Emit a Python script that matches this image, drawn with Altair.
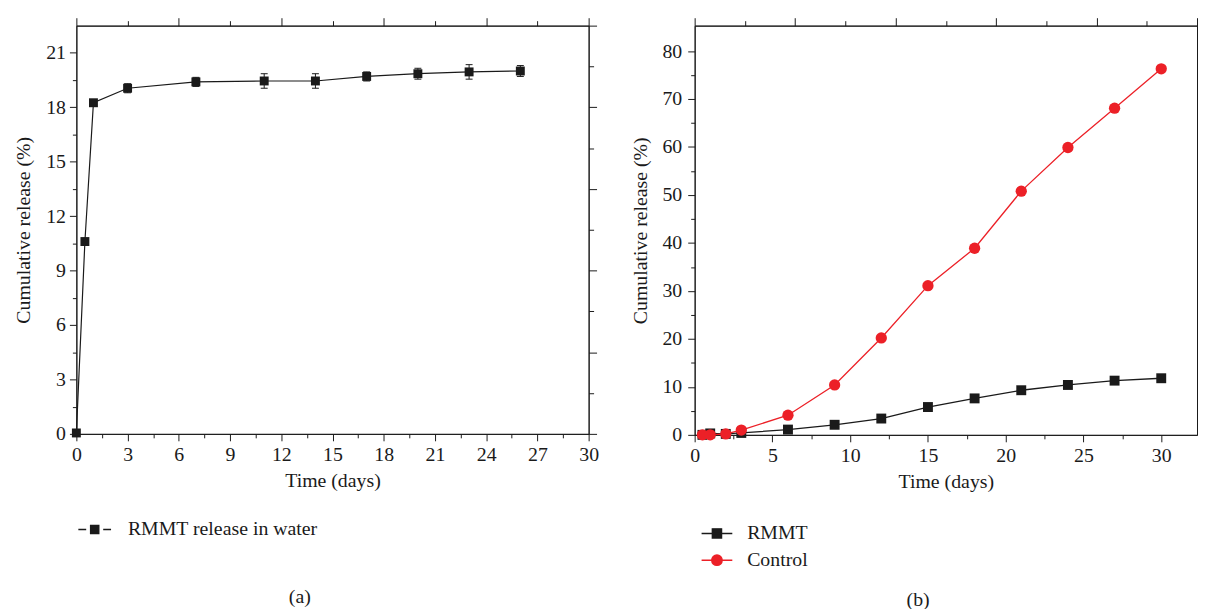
import altair as alt
import pandas as pd

FONT = "Liberation Serif"
INK = "#1a1a1a"
RED = "#ec2027"

# ---------------- panel (a): RMMT release in water ----------------
a_time = [0, 0.5, 1, 3, 7, 11, 14, 17, 20, 23, 26]
a_release = [0.05, 10.6, 18.25, 19.05, 19.4, 19.45, 19.45, 19.7, 19.85, 19.95, 20.0]
a_err = [0.0, 0.0, 0.0, 0.25, 0.25, 0.4, 0.4, 0.25, 0.3, 0.4, 0.3]
a_series = ["RMMT release in water"]

# ---------------- panel (b): RMMT vs Control ----------------
b_time = [0.5, 1, 2, 3, 6, 9, 12, 15, 18, 21, 24, 27, 30]
b_rmmt = [0.0, 0.3, 0.2, 0.4, 1.1, 2.1, 3.4, 5.8, 7.6, 9.3, 10.4, 11.3, 11.8]
b_control = [0.0, 0.0, 0.2, 1.0, 4.1, 10.4, 20.2, 31.1, 38.9, 50.8, 59.9, 68.1, 76.3]
b_series = ["RMMT", "Control"]

# tick values (major + minor)
a_x_ticks = [i * 1.5 for i in range(21)]
a_y_ticks = [i * 1.5 for i in range(15)]
a_top_ticks = [i * 3.0 for i in range(11)]
a_right_ticks = [i * 2.25 for i in range(11)]
b_x_ticks = [i * 2.5 for i in range(13)]
b_y_ticks = [i * 5.0 for i in range(17)]
b_top_ticks = [round(i * 3.23, 3) for i in range(11)]

A_XDOM = [0, 30]
A_YDOM = [0, 22.5]
B_XDOM = [0, 32.3]
B_YDOM = [0, 85.3]

# legend symbols: line + marker (custom paths in unit space)
SQ_GAP = ("M-1,0H-0.52M0.52,0H1"
          "M-0.25,-0.25H0.25V0.25H-0.25Z")
SQ_LINE = "M-1,0H1M-0.3,-0.3H0.3V0.3H-0.3Z"
CIRC_LINE = ("M-1,0H1M0.34,0A0.34,0.34,0,1,1,-0.34,0"
             "A0.34,0.34,0,1,1,0.34,0Z")


def is_major(step):
    return f"abs(datum.value/{step} - round(datum.value/{step})) < 1e-6"


def main_axis(values, major, title, orient, title_pad, label_pad):
    return alt.Axis(
        values=values, orient=orient, title=title, grid=False,
        labelExpr=f"{is_major(major)} ? format(datum.value, 'd') : ''",
        tickSize={"condition": {"test": is_major(major), "value": 7}, "value": 4},
        labelFlush=False, labelOverlap=False, labelPadding=label_pad,
        titlePadding=title_pad, domainColor=INK, tickColor=INK,
        labelColor=INK, titleColor=INK, labelFont=FONT, titleFont=FONT,
        labelFontSize=20, titleFontSize=20, titleFontWeight="normal",
    )


def side_axis(values, step, orient):
    return alt.Axis(
        values=values, orient=orient, title=None, labels=False, grid=False,
        tickSize={"condition": {"test": f"round(datum.value/{step}) % 2 === 0",
                                "value": 8}, "value": 5},
        domainColor=INK, tickColor=INK,
    )


def legend(x, y, size, offset, row_pad):
    return alt.Legend(
        orient="none", legendX=x, legendY=y, title=None,
        symbolSize=size, symbolStrokeWidth=1.4, labelFont=FONT,
        labelFontSize=20, labelColor=INK, labelOffset=offset,
        rowPadding=row_pad, symbolOpacity=1, labelLimit=0,
    )


# ---------------- panel (a) ----------------
dfa = pd.DataFrame({
    "t": a_time, "r": a_release,
    "lo": [r - e for r, e in zip(a_release, a_err)],
    "hi": [r + e for r, e in zip(a_release, a_err)],
    "err": a_err, "sa": a_series[0],
})
xa = alt.Scale(domain=A_XDOM, nice=False, zero=False)
ya = alt.Scale(domain=A_YDOM, nice=False, zero=False)
base_a = alt.Chart(dfa)

line_a = base_a.mark_line(color=INK, strokeWidth=1.2).encode(
    x=alt.X("t:Q", scale=xa, axis=main_axis(a_x_ticks, 3, "Time (days)", "bottom", 6, 4)),
    y=alt.Y("r:Q", scale=ya, axis=main_axis(a_y_ticks, 3, "Cumulative release (%)", "left", 12, 4)),
)
err_a = base_a.transform_filter("datum.err > 0").mark_rule(color=INK, strokeWidth=1).encode(
    x=alt.X("t:Q", scale=xa, axis=None),
    y=alt.Y("lo:Q", scale=ya, axis=None), y2="hi:Q",
)
caplo_a = base_a.transform_filter("datum.err > 0").mark_tick(
    color=INK, orient="horizontal", size=7, thickness=1, opacity=1).encode(
    x=alt.X("t:Q", scale=xa, axis=None), y=alt.Y("lo:Q", scale=ya, axis=None))
caphi_a = base_a.transform_filter("datum.err > 0").mark_tick(
    color=INK, orient="horizontal", size=7, thickness=1, opacity=1).encode(
    x=alt.X("t:Q", scale=xa, axis=None), y=alt.Y("hi:Q", scale=ya, axis=None))
pts_a = base_a.mark_point(shape="square", filled=True, size=81, opacity=1, color=INK).encode(
    x=alt.X("t:Q", scale=xa, axis=side_axis(a_top_ticks, 3.0, "top")),
    y=alt.Y("r:Q", scale=ya, axis=side_axis(a_right_ticks, 2.25, "right")),
)
leg_a = legend(1, 491, 1089, 16, 6)
legend_a = base_a.mark_point(filled=True, size=0, opacity=1).encode(
    x=alt.X("t:Q", scale=xa, axis=None),
    y=alt.Y("r:Q", scale=ya, axis=None),
    color=alt.Color("sa:N", scale=alt.Scale(domain=a_series, range=[INK]), legend=leg_a),
    stroke=alt.Stroke("sa:N", scale=alt.Scale(domain=a_series, range=[INK]), legend=leg_a),
    shape=alt.Shape("sa:N", scale=alt.Scale(domain=a_series, range=[SQ_GAP]), legend=leg_a),
)
panel_a = alt.layer(line_a, err_a, caplo_a, caphi_a, pts_a, legend_a).resolve_axis(
    x="independent", y="independent"
).properties(
    width=517, height=412,
    title=alt.TitleParams("(a)", orient="bottom", anchor="middle", font=FONT,
                          fontSize=20, fontWeight="normal", color=INK, dx=-33, offset=48),
)

# ---------------- panel (b) ----------------
dfb = pd.DataFrame({
    "t": b_time * 2,
    "r": b_rmmt + b_control,
    "sb": [b_series[0]] * len(b_time) + [b_series[1]] * len(b_time),
})
xb = alt.Scale(domain=B_XDOM, nice=False, zero=False)
yb = alt.Scale(domain=B_YDOM, nice=False, zero=False)
base_b = alt.Chart(dfb)
rm_b = base_b.transform_filter(alt.datum.sb == b_series[0])
co_b = base_b.transform_filter(alt.datum.sb == b_series[1])

line_rm = rm_b.mark_line(strokeWidth=1.3, color=INK).encode(
    x=alt.X("t:Q", scale=xb, axis=main_axis(b_x_ticks, 5, "Time (days)", "bottom", 6, 4)),
    y=alt.Y("r:Q", scale=yb, axis=main_axis(b_y_ticks, 10, "Cumulative release (%)", "left", 12, 6)),
)
line_co = co_b.mark_line(strokeWidth=1.3, color=RED).encode(
    x=alt.X("t:Q", scale=xb, axis=None),
    y=alt.Y("r:Q", scale=yb, axis=None),
)
sq_b = rm_b.mark_point(shape="square", filled=True, size=100, opacity=1, color=INK).encode(
    x=alt.X("t:Q", scale=xb, axis=side_axis(b_top_ticks, 3.23, "top")),
    y=alt.Y("r:Q", scale=yb, axis=alt.Axis(orient="right", values=[], ticks=False,
                                           labels=False, title=None, domainColor=INK)),
)
ci_b = co_b.mark_point(shape="circle", filled=True, size=130, opacity=1, color=RED).encode(
    x=alt.X("t:Q", scale=xb, axis=None),
    y=alt.Y("r:Q", scale=yb, axis=None),
)
leg_b = legend(6, 496, 961, 14, 0)
legend_b = base_b.mark_point(filled=True, size=0, opacity=1).encode(
    x=alt.X("t:Q", scale=xb, axis=None),
    y=alt.Y("r:Q", scale=yb, axis=None),
    color=alt.Color("sb:N", scale=alt.Scale(domain=b_series, range=[INK, RED]), legend=leg_b),
    stroke=alt.Stroke("sb:N", scale=alt.Scale(domain=b_series, range=[INK, RED]), legend=leg_b),
    shape=alt.Shape("sb:N", scale=alt.Scale(domain=b_series, range=[SQ_LINE, CIRC_LINE]), legend=leg_b),
)
panel_b = alt.layer(line_rm, line_co, sq_b, ci_b, legend_b).resolve_axis(
    x="independent", y="independent"
).properties(
    width=507, height=413,
    title=alt.TitleParams("(b)", orient="bottom", anchor="middle", font=FONT,
                          fontSize=20, fontWeight="normal", color=INK, dx=-28, offset=20),
)

chart = alt.hconcat(panel_a, panel_b, spacing=30).resolve_scale(
    color="independent", stroke="independent", shape="independent"
).configure_view(stroke=INK, strokeWidth=1).properties(
    padding={"left": 5, "top": 6, "right": 0, "bottom": 0},
    background="white",
)

chart.save("out.html", embed_options={"renderer": "svg", "actions": False})
